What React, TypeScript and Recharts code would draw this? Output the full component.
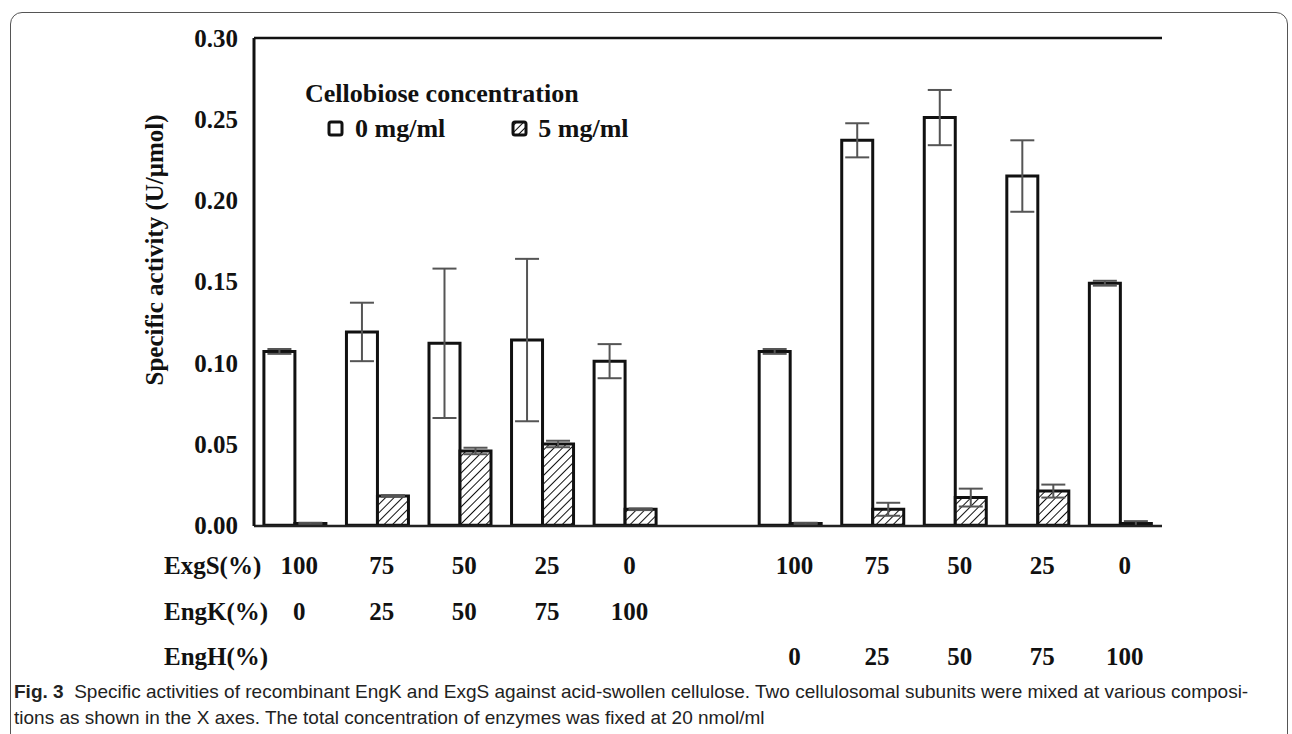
import React from "react";
import {
  BarChart,
  Bar,
  XAxis,
  YAxis,
  ErrorBar,
  ReferenceLine,
  Label,
} from "recharts";

// composition of each mixture (empty slot separates the two series of mixtures)
const exgS = ["100", "75", "50", "25", "0", "", "100", "75", "50", "25", "0"];
const engK = ["0", "25", "50", "75", "100", "", "", "", "", "", ""];
const engH = ["", "", "", "", "", "", "0", "25", "50", "75", "100"];

// specific activity (U/umol) without / with 5 mg/ml cellobiose
const cellobiose0 = [0.107, 0.119, 0.112, 0.114, 0.101, null, 0.107, 0.237, 0.251, 0.215, 0.149];
const cellobiose0Err = [0.0015, 0.018, 0.046, 0.05, 0.0105, null, 0.0015, 0.0105, 0.017, 0.022, 0.0015];
const cellobiose5 = [0.001, 0.018, 0.0457, 0.05, 0.0098, null, 0.001, 0.0098, 0.017, 0.021, 0.001];
const cellobiose5Err = [0.0005, 0.0005, 0.002, 0.002, 0.0005, null, 0.0005, 0.004, 0.0055, 0.004, 0.0015];

const yTicks = [0, 0.05, 0.1, 0.15, 0.2, 0.25, 0.3];

const data = exgS.map((v, i) => ({
  key: "c" + i,
  c0: cellobiose0[i],
  c0Err: cellobiose0Err[i],
  c5: cellobiose5[i],
  c5Err: cellobiose5Err[i],
}));

const serif = "'Liberation Serif', 'Times New Roman', serif";

const XTick = (props: any) => {
  const { x, y, payload } = props;
  const i = payload.index;
  const common = {
    textAnchor: "middle" as const,
    fontFamily: serif,
    fontWeight: 700,
    fontSize: 25,
    fill: "#111",
  };
  return (
    <g>
      {i === 0 && (
        <g>
          <text {...common} textAnchor="start" x={164} y={y + 48}>ExgS(%)</text>
          <text {...common} textAnchor="start" x={164} y={y + 94}>EngK(%)</text>
          <text {...common} textAnchor="start" x={164} y={y + 139}>EngH(%)</text>
        </g>
      )}
      <text {...common} x={x + 4} y={y + 48}>{exgS[i]}</text>
      <text {...common} x={x + 4} y={y + 94}>{engK[i]}</text>
      <text {...common} x={x + 4} y={y + 139}>{engH[i]}</text>
    </g>
  );
};

const LegendBox = () => (
  <div style={{ fontFamily: serif, fontWeight: 700, fontSize: 26, color: "#111", lineHeight: "35px" }}>
    <div style={{ marginLeft: 5 }}>Cellobiose concentration</div>
    <div style={{ display: "flex", alignItems: "center" }}>
      <svg width={18} height={18} style={{ marginLeft: 27, marginRight: 10 }}>
        <rect x={2} y={2} width={13} height={13} fill="#fff" stroke="#111" strokeWidth={3} rx={2} />
      </svg>
      <span>0 mg/ml</span>
      <svg width={18} height={18} style={{ marginLeft: 66, marginRight: 9 }}>
        <defs>
          <pattern id="hatchLegend" patternUnits="userSpaceOnUse" width={5} height={5} patternTransform="rotate(45)">
            <rect width={5} height={5} fill="#fff" />
            <line x1={0} y1={0} x2={0} y2={5} stroke="#111" strokeWidth={2} />
          </pattern>
        </defs>
        <rect x={2} y={2} width={13} height={13} fill="url(#hatchLegend)" stroke="#111" strokeWidth={3} rx={2} />
      </svg>
      <span>5 mg/ml</span>
    </div>
  </div>
);

export default function App() {
  return (
    <div style={{ position: "absolute", left: 0, top: 0, width: 1292, height: 734, background: "#fff", overflow: "hidden" }}>
      <div
        style={{
          position: "absolute",
          left: 10,
          top: 12,
          width: 1278,
          height: 740,
          border: "1px solid #555",
          borderRadius: 12,
          boxSizing: "border-box",
        }}
      />
      <div style={{ position: "absolute", left: 0, top: 0 }}>
        <BarChart
          width={1292}
          height={680}
          data={data}
          margin={{ top: 38, right: 130, left: 164, bottom: 4 }}
          barCategoryGap="12%"
          barGap={0}
        >
          <defs>
            <pattern id="hatch" patternUnits="userSpaceOnUse" width={6} height={6} patternTransform="rotate(45)">
              <rect width={6} height={6} fill="#fff" />
              <line x1={0} y1={0} x2={0} y2={6} stroke="#111" strokeWidth={2} />
            </pattern>
          </defs>
          <XAxis
            dataKey="key"
            height={150}
            tick={<XTick />}
            tickLine={false}
            tickSize={0}
            tickMargin={0}
            interval={0}
            axisLine={{ stroke: "#222", strokeWidth: 2.5 }}
          />
          <YAxis
            width={90}
            domain={[0, 0.3]}
            ticks={yTicks}
            tickFormatter={(v: number) => v.toFixed(2)}
            tickLine={false}
            tickMargin={10}
            axisLine={{ stroke: "#111", strokeWidth: 3 }}
            tick={{ fontFamily: serif, fontWeight: 700, fontSize: 25, fill: "#111" }}
          >
            <Label
              content={() => (
                <text
                  transform="translate(157,250) rotate(-90)"
                  textAnchor="middle"
                  dominantBaseline="middle"
                  fontFamily={serif}
                  fontWeight={700}
                  fontSize={25}
                  fill="#111"
                >
                  Specific activity (U/μmol)
                </text>
              )}
            />
          </YAxis>
          <YAxis yAxisId="right" orientation="right" width={0} tick={false} tickLine={false} axisLine={{ stroke: "#111", strokeWidth: 3 }} />
          <ReferenceLine y={0.3} stroke="#111" strokeWidth={2.5} />
          <Bar dataKey="c0" name="0 mg/ml" fill="#fff" stroke="#111" strokeWidth={3} isAnimationActive={false}>
            <ErrorBar dataKey="c0Err" width={12} stroke="#555" strokeWidth={2} />
          </Bar>
          <Bar dataKey="c5" name="5 mg/ml" fill="url(#hatch)" stroke="#111" strokeWidth={3} isAnimationActive={false}>
            <ErrorBar dataKey="c5Err" width={12} stroke="#555" strokeWidth={2} />
          </Bar>
        </BarChart>
      </div>
      <div style={{ position: "absolute", left: 300, top: 76 }}>
        <LegendBox />
      </div>
      <div
        style={{
          position: "absolute",
          left: 14,
          top: 679,
          fontFamily: "'Liberation Sans', sans-serif",
          fontSize: 19,
          lineHeight: "26px",
          color: "#222",
          whiteSpace: "nowrap",
        }}
      >
        <b>Fig. 3</b>&nbsp;&nbsp;Specific activities of recombinant EngK and ExgS against acid-swollen cellulose. Two cellulosomal subunits were mixed at various composi-
        <br />
        tions as shown in the X axes. The total concentration of enzymes was fixed at 20 nmol/ml
      </div>
    </div>
  );
}
